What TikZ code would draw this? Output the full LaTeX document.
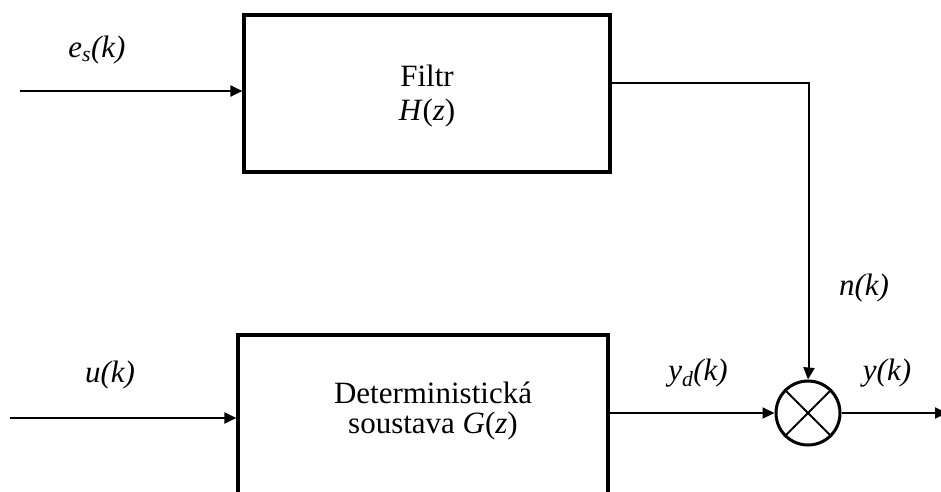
\documentclass[tikz,border=0pt]{standalone}
\usepackage{fontspec}
\setmainfont{Liberation Serif}
\usetikzlibrary{arrows.meta,calc}
\begin{document}
\begin{tikzpicture}[x=1pt,y=-1pt,
  font=\fontsize{31}{31}\selectfont,
  block/.style={draw,line width=3.2pt,inner sep=0pt,align=center},
  sig/.style={line width=2pt,-{Triangle[length=12pt,width=11pt]}},
  wire/.style={line width=1.8pt},
  txt/.style={inner sep=0pt,align=center},
  lbl/.style={inner sep=0pt,font=\fontsize{31}{31}\selectfont\itshape}]
\useasboundingbox (0,0) rectangle (941,491);
\clip (0,0) rectangle (941,491);
% blocks
\node[block,minimum width=366pt,minimum height=157pt] (flt) at (427,93.5) {};
\node[txt,font=\fontsize{31}{34}\selectfont] at (427,96) {Filtr\\\textit{H}(\textit{z})};
\node[block,minimum width=370pt,minimum height=200pt] (det) at (423,435) {};
\node[txt,font=\fontsize{31}{30}\selectfont] at (433,411) {Deterministická\\soustava \textit{G}(\textit{z})};
% summing junction
\node[draw,circle,line width=3pt,minimum size=64pt,inner sep=0pt] (sum) at (808,413) {};
\draw[line width=2pt] (sum.north west) -- (sum.south east) (sum.north east) -- (sum.south west);
% inputs
\coordinate (es) at (20,91);
\coordinate (uin) at (10,418);
\draw[sig] (es) -- (es -| flt.west);
\draw[sig] (uin) -- (uin -| det.west);
% filter output to junction
\coordinate (fo) at (610,83);
\draw[wire] (fo) -| ($(sum.north)+(1,-10)$);
\draw[sig] ($(sum.north)+(1,-12)$) -- (sum.north);
% deterministic output to junction
\coordinate (yo) at (608,413);
\draw[sig] (yo) -- (sum.west);
% output
\coordinate (out) at (947,413);
\draw[sig] (sum.east) -- (out);
% labels
\node[lbl] at (97,50) {e\textsubscript{s}(k)};
\node[lbl] at (110,375) {u(k)};
\node[lbl] at (698,373) {y\textsubscript{d}(k)};
\node[lbl] at (864,288) {n(k)};
\node[lbl] at (887,373) {y(k)};
\end{tikzpicture}
\end{document}
